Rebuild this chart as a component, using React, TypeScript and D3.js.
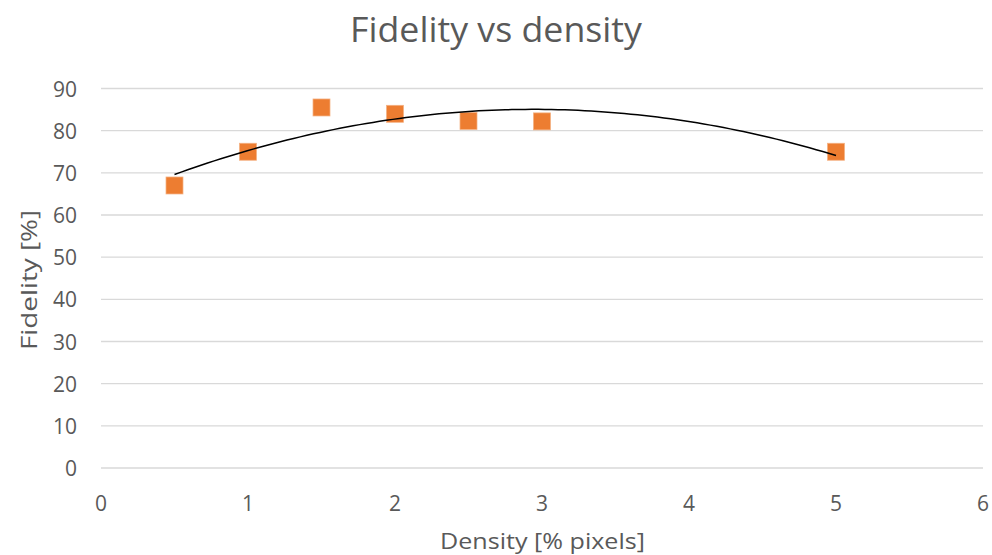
import React, { useEffect, useRef } from 'react';
import * as d3 from 'd3';

const densities = [0.5, 1, 1.5, 2, 2.5, 3, 5];
const fidelities = [67, 75, 85.5, 84, 82.3, 82.2, 75];
const xTicks = [0, 1, 2, 3, 4, 5, 6];
const yTicks = [0, 10, 20, 30, 40, 50, 60, 70, 80, 90];

// least squares fit of order 2, like the Excel polynomial trendline
function quadFit(xs: number[], ys: number[]) {
  const s = (p: number) => d3.sum(xs, x => Math.pow(x, p));
  const t = (p: number) => d3.sum(xs, (x, i) => Math.pow(x, p) * ys[i]);
  const m = [
    [s(0), s(1), s(2), t(0)],
    [s(1), s(2), s(3), t(1)],
    [s(2), s(3), s(4), t(2)],
  ];
  for (let i = 0; i < 3; i++) {
    for (let k = i + 1; k < 3; k++) {
      const f = m[k][i] / m[i][i];
      for (let j = i; j < 4; j++) m[k][j] -= f * m[i][j];
    }
  }
  const c = [0, 0, 0];
  for (let i = 2; i >= 0; i--) {
    let v = m[i][3];
    for (let j = i + 1; j < 3; j++) v -= m[i][j] * c[j];
    c[i] = v / m[i][i];
  }
  return (x: number) => c[0] + c[1] * x + c[2] * x * x;
}

const App = () => {
  const svgRef = useRef<SVGSVGElement>(null);

  useEffect(() => {
    document.body.style.margin = '0';
    const svg = d3.select(svgRef.current);
    svg.selectAll('*').remove();

    const font = "'Open Sans', sans-serif";
    const grey = '#595959';

    const x = d3.scaleLinear().domain([0, 6]).range([101, 983]);
    const y = d3.scaleLinear().domain([0, 90]).range([468, 88.5]);

    svg.append('rect').attr('width', 992).attr('height', 555).attr('fill', '#fff');

    // gridlines
    svg.append('g').selectAll('line').data(yTicks).join('line')
      .attr('x1', x(0)).attr('x2', x(6))
      .attr('y1', d => y(d)).attr('y2', d => y(d))
      .attr('stroke', '#d9d9d9').attr('stroke-width', 1.3);

    // tick labels
    svg.append('g').selectAll('text').data(yTicks).join('text')
      .attr('x', 77).attr('y', d => y(d) + 8)
      .attr('text-anchor', 'end').attr('fill', grey)
      .style('font-family', font).style('font-size', '21px')
      .text(d => d);

    svg.append('g').selectAll('text').data(xTicks).join('text')
      .attr('x', d => x(d)).attr('y', 510.5)
      .attr('text-anchor', 'middle').attr('fill', grey)
      .style('font-family', font).style('font-size', '21px')
      .text(d => d);

    // trendline
    const fit = quadFit(densities, fidelities);
    const xs = d3.range(0, 101).map(i => 0.5 + (4.5 * i) / 100);
    const line = d3.line<number>().x(d => x(d)).y(d => y(fit(d)));

    // markers
    const size = 17;
    svg.append('g').selectAll('rect').data(densities).join('rect')
      .attr('x', d => x(d) - size / 2)
      .attr('y', (d, i) => y(fidelities[i]) - size / 2)
      .attr('width', size).attr('height', size)
      .attr('fill', '#ed7d31').attr('stroke', '#f4b183').attr('stroke-width', 0.75);

    // the line is drawn over the markers in the reference
    svg.append('path').datum(xs).attr('d', line)
      .attr('fill', 'none').attr('stroke', '#000').attr('stroke-width', 1.5);

    // titles
    svg.append('text').attr('x', 496).attr('y', 41.5).attr('text-anchor', 'middle')
      .attr('fill', grey).style('font-family', font).style('font-size', '35px')
      .attr('textLength', 292).attr('lengthAdjust', 'spacingAndGlyphs')
      .text('Fidelity vs density');

    svg.append('text').attr('x', 542.5).attr('y', 549).attr('text-anchor', 'middle')
      .attr('fill', grey).style('font-family', font).style('font-size', '22px')
      .attr('textLength', 205).attr('lengthAdjust', 'spacingAndGlyphs')
      .text('Density [% pixels]');

    svg.append('text').attr('transform', 'translate(37,280) rotate(-90)')
      .attr('text-anchor', 'middle')
      .attr('fill', grey).style('font-family', font).style('font-size', '22px')
      .attr('textLength', 140).attr('lengthAdjust', 'spacingAndGlyphs')
      .text('Fidelity [%]');
  }, []);

  return <svg ref={svgRef} width={992} height={555} style={{ display: 'block' }} />;
};

export default App;
